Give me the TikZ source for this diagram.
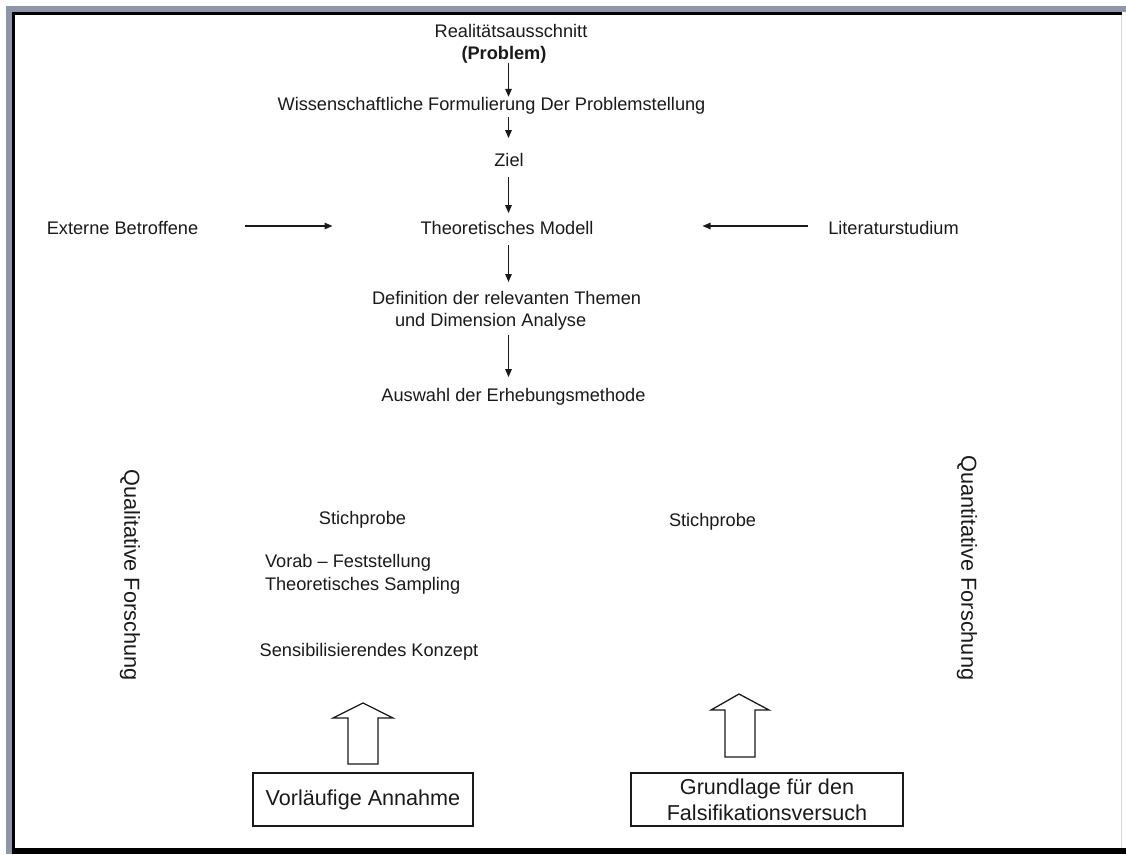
\documentclass[tikz,border=0pt]{standalone}
\usepackage{fontspec}
\setmainfont{Liberation Sans}
\usetikzlibrary{arrows.meta}
\definecolor{framegray}{HTML}{9096AA}
\definecolor{edgegray}{HTML}{D8D8D8}
\definecolor{ink}{HTML}{1A1A1A}
\tikzset{
  txt/.style={inner sep=0pt, outer sep=0pt, text=ink, font=\fontsize{18.2}{22}\selectfont},
  sidetxt/.style={inner sep=0pt, outer sep=0pt, text=ink, rotate=-90, font=\fontsize{21.7}{26}\selectfont},
  boxnode/.style={draw=ink, line width=1.4pt, inner sep=0pt, text=ink, align=center, font=\fontsize{21.6}{26}\selectfont},
  arr/.style={draw=ink, line width=1.3pt, -{Triangle[length=8pt,width=6.5pt]}},
  blockarrow/.style={draw=ink, line width=1.3pt, fill=white, line join=miter}
}
\begin{document}
\begin{tikzpicture}[x=1pt,y=-1pt]
\useasboundingbox (0,0) rectangle (1126,854);
\fill[white] (0,0) rectangle (1126,854);
% frame
\fill[framegray] (6,6) rectangle (1126,12);
\fill[framegray] (6,6) rectangle (12,854);
\fill[black] (12,12) rectangle (1122,15);
\fill[black] (12,12) rectangle (15,848);
\fill[black] (12,848) rectangle (1126,854);
\fill[edgegray] (1120.5,15) rectangle (1122,848);

\coordinate (axis) at (508.5,0);

% main chain
\node[txt, anchor=base] (real) at (511,37) {Realitätsausschnitt};
\node[txt, anchor=base, font=\fontsize{18.2}{22}\selectfont\bfseries] (prob) at (504,59) {(Problem)};
\node[txt, anchor=base] (wiss) at (491.5,110) {Wissenschaftliche Formulierung Der Problemstellung};
\node[txt, anchor=base] (ziel) at (509,166) {Ziel};
\node[txt, anchor=base] (model) at (507,234) {Theoretisches Modell};
\node[txt, anchor=base] (ext) at (122.5,234) {Externe Betroffene};
\node[txt, anchor=base] (lit) at (893.5,234) {Literaturstudium};
\node[txt, anchor=north west, align=left] (def) at (372,291.7) {Definition der relevanten Themen\\\hspace*{23pt}und Dimension Analyse};
\node[txt, anchor=base] (ausw) at (513.5,401) {Auswahl der Erhebungsmethode};

\draw[arr] (prob.south -| axis) -- (wiss.north -| axis);
\draw[arr, shorten <=3pt, shorten >=14.7pt] (wiss.south -| axis) -- (ziel.north -| axis);
\draw[arr, shorten <=11pt, shorten >=7.7pt] (ziel.south -| axis) -- (model.north -| axis);
\draw[arr, shorten <=11pt, shorten >=9.7pt] (model.south -| axis) -- (def.north -| axis);
\draw[arr, shorten <=4pt, shorten >=10.7pt] (def.south -| axis) -- (ausw.north -| axis);

\draw[arr, shorten <=47pt, shorten >=88pt] ([yshift=1.5pt]ext.east) -- ([yshift=1.5pt]ext.east -| model.west);
\draw[arr, shorten <=20pt, shorten >=109pt] ([yshift=1.5pt]lit.west) -- ([yshift=1.5pt]lit.west -| model.east);

% side labels
\node[sidetxt] (qual) at (130,575) {Qualitative Forschung};
\node[sidetxt] (quant) at (967,568) {Quantitative Forschung};

% lower texts
\node[txt, anchor=base] (stichl) at (362.5,524) {Stichprobe};
\node[txt, anchor=north west, align=left, font=\fontsize{18.2}{23}\selectfont] (vorab) at (265,554.7) {Vorab -- Feststellung\\Theoretisches Sampling};
\node[txt, anchor=base] (sens) at (369,656) {Sensibilisierendes Konzept};
\node[txt, anchor=base] (stichr) at (712.5,526) {Stichprobe};

% block arrows
\draw[blockarrow] (363,703) -- (393,718) -- (378,718) -- (378,764) -- (348,764) -- (348,718) -- (333,718) -- cycle;
\draw[blockarrow] (739,694) -- (769,710) -- (755,710) -- (755,757) -- (725,757) -- (725,710) -- (711,710) -- cycle;

% boxes
\node[boxnode, minimum width=220pt, minimum height=53pt] (annahme) at (363,799.5) {Vorläufige Annahme};
\node[boxnode, minimum width=272pt, minimum height=53pt] (grund) at (767,799.5) {Grundlage für den\\Falsifikationsversuch};
\end{tikzpicture}
\end{document}
